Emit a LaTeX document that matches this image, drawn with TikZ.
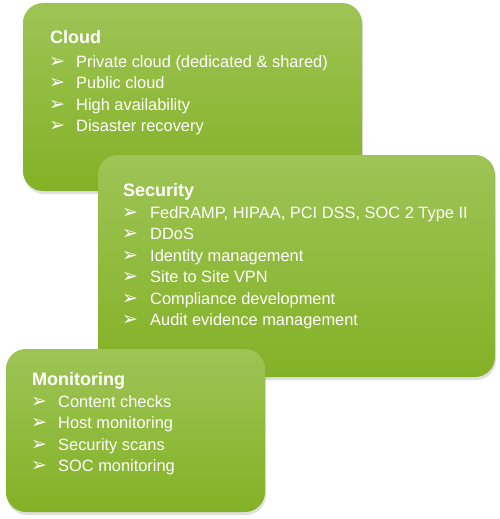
\documentclass[tikz,border=0pt]{standalone}
\usepackage{fontspec}
\setmainfont{Liberation Sans}
\newfontfamily\arrowfont{DejaVu Sans}
\usetikzlibrary{shadows}
\definecolor{paneltop}{RGB}{158,196,86}
\definecolor{panelbottom}{RGB}{131,177,38}
\newcommand*\panelradius{20pt}
\newcommand*\linegap{21.5}
\tikzset{
    panel/.style   = {rounded corners=\panelradius, draw=none,
                    top color=paneltop, bottom color=panelbottom,
                    drop shadow={opacity=0.25, shadow xshift=1pt, shadow yshift=-3pt},
                    inner sep=0pt, outer sep=0pt},
    heading/.style = {anchor=base west, inner sep=0pt, text=white,
                    font=\fontsize{18}{20}\selectfont\bfseries},
    arrowmark/.style = {anchor=base west, inner sep=0pt, text=white,
                    font=\arrowfont\fontsize{19}{20}\selectfont},
    entry/.style   = {anchor=base west, inner sep=0pt, text=white,
                    font=\fontsize{16.4}{18}\selectfont},
  }
\begin{document}
\begin{tikzpicture}[x=1pt,y=-1pt]
        \useasboundingbox (0,0) rectangle (500,519);

        % Cloud panel
        \node[panel, minimum width=339pt, minimum height=188pt] (cloud) at (192.5,97) {};
        \node[heading] (cloud-title) at (50,44) {Cloud};
        \foreach \t [count=\i from 0] in {Private cloud (dedicated \& shared),Public cloud,High availability,Disaster recovery} {
            \node[arrowmark] (cloud-m\i) at (49,67+\i*\linegap) {➢};
            \node[entry] (cloud-e\i) at (76,67+\i*\linegap) {\t};
        }

        % Security panel
        \node[panel, minimum width=397pt, minimum height=222pt] (security) at (296.5,266) {};
        \node[heading] (security-title) at (123,196) {Security};
        \foreach \t [count=\i from 0] in {{FedRAMP, HIPAA, PCI DSS, SOC 2 Type II},DDoS,Identity management,Site to Site VPN,Compliance development,Audit evidence management} {
            \node[arrowmark] (security-m\i) at (122,218+\i*\linegap) {➢};
            \node[entry] (security-e\i) at (150,218+\i*\linegap) {\t};
        }

        % Monitoring panel
        \node[panel, minimum width=259pt, minimum height=163pt] (monitoring) at (135.5,430.5) {};
        \node[heading] (monitoring-title) at (32,385) {Monitoring};
        \foreach \t [count=\i from 0] in {Content checks,Host monitoring,Security scans,SOC monitoring} {
            \node[arrowmark] (monitoring-m\i) at (31,407+\i*\linegap) {➢};
            \node[entry] (monitoring-e\i) at (58,407+\i*\linegap) {\t};
        }
    \end{tikzpicture}
\end{document}
